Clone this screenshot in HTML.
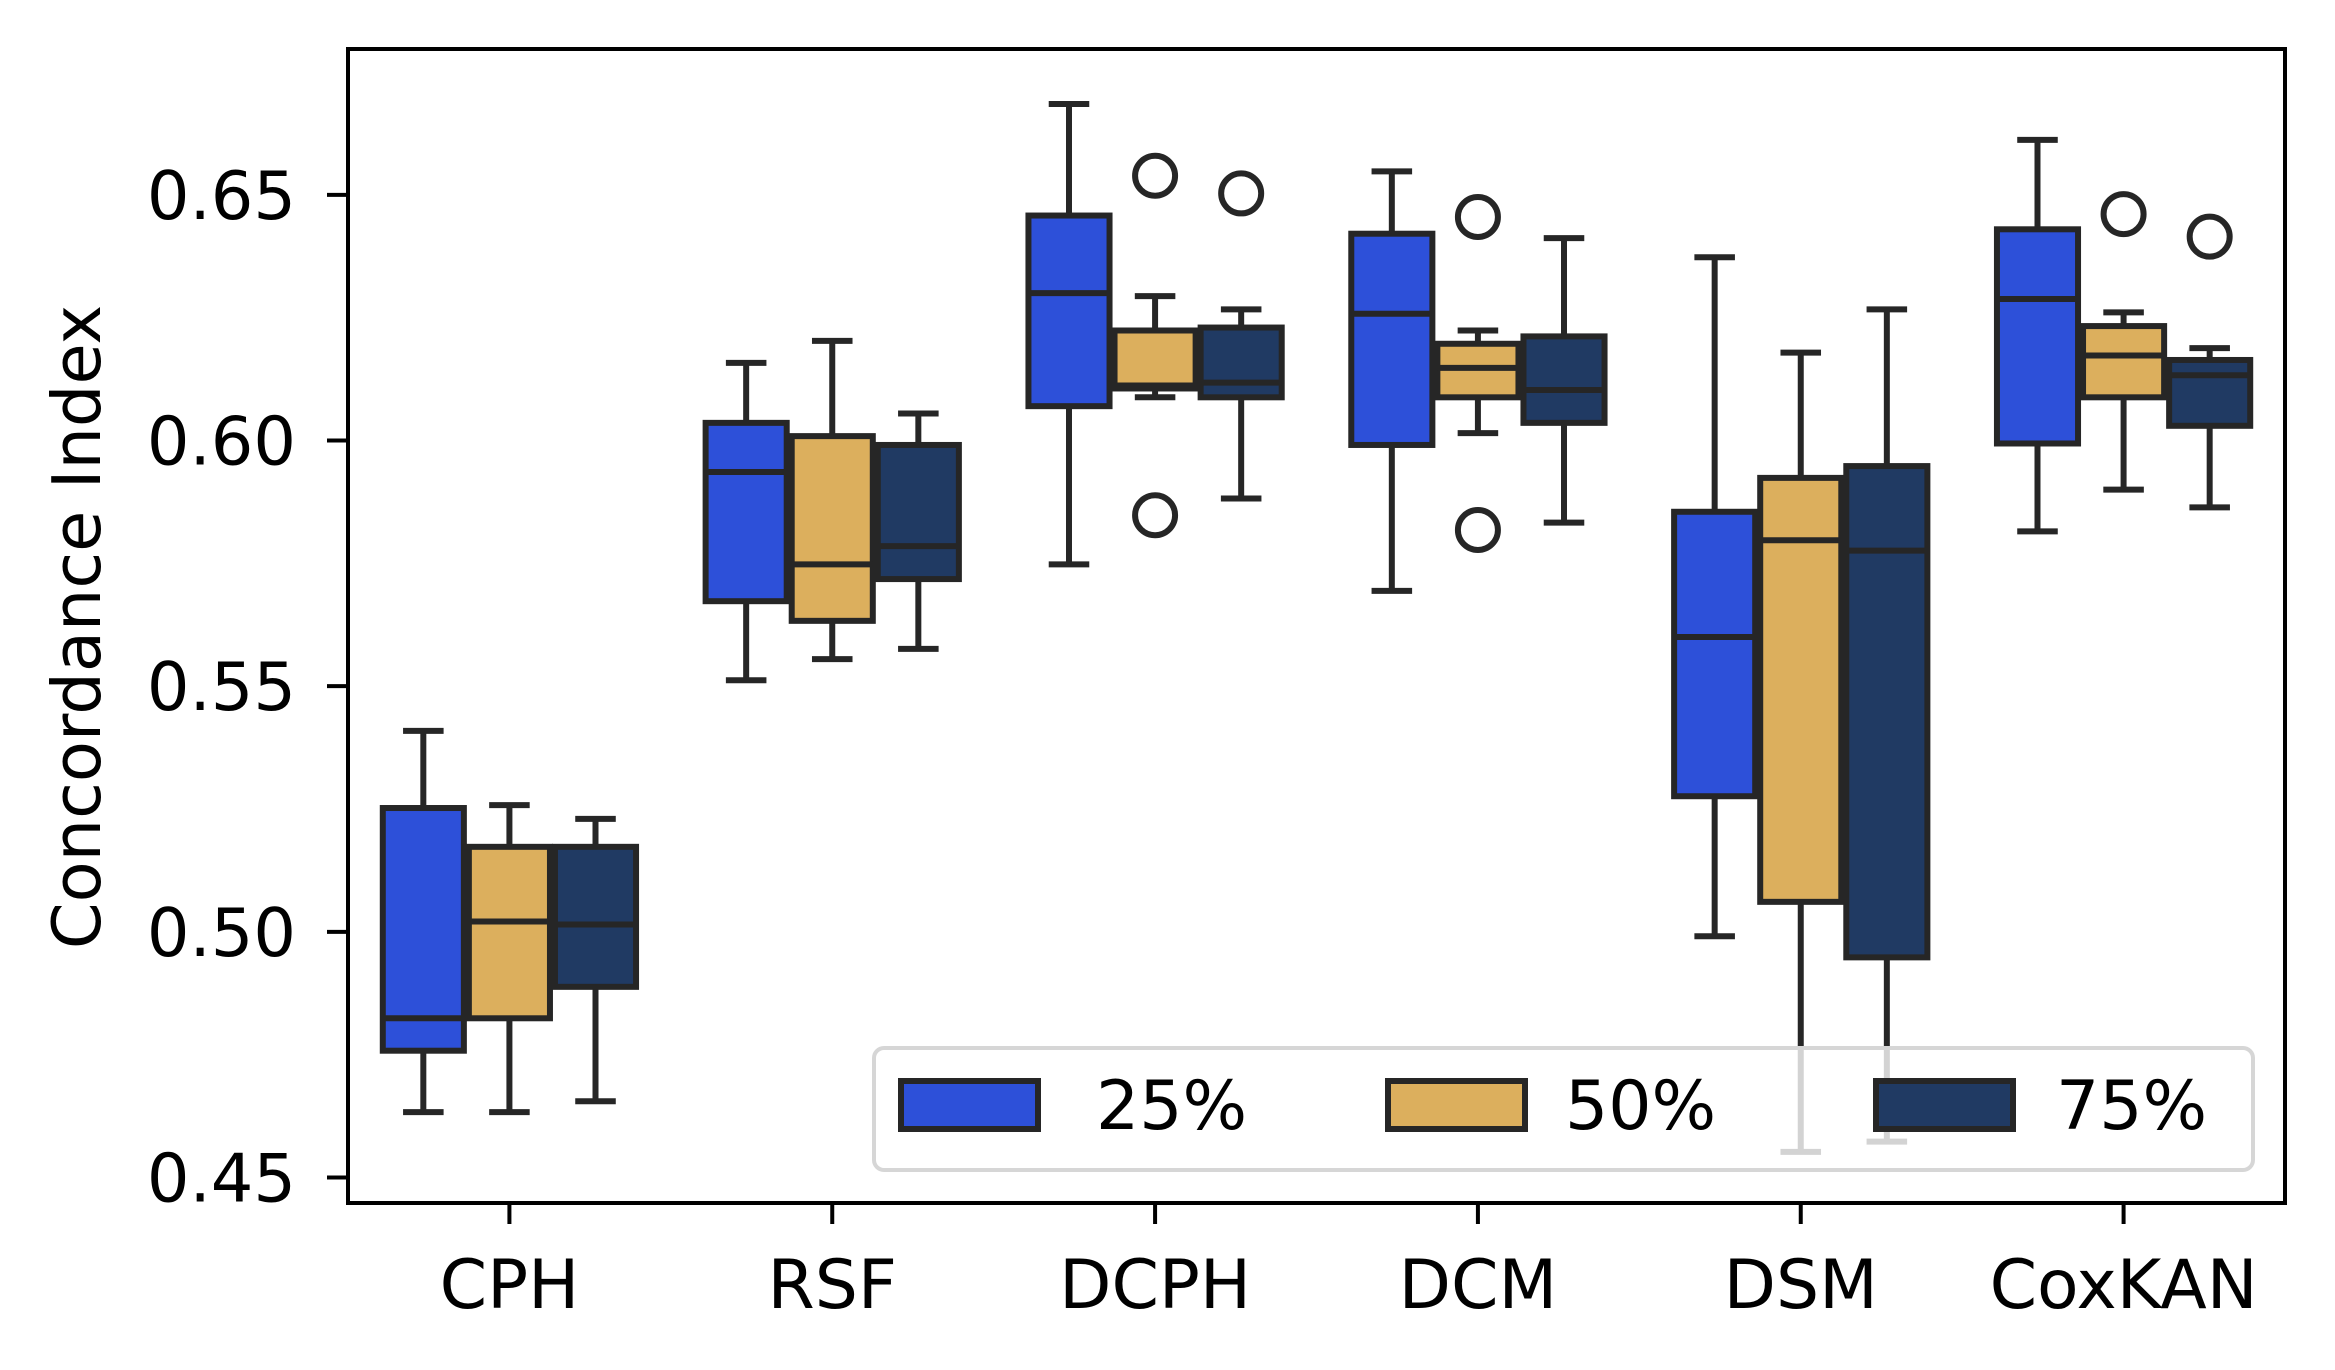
<!DOCTYPE html>
<html><head><meta charset="utf-8"><style>
html,body{margin:0;padding:0;background:#fff;}
svg{display:block;font-family:"DejaVu Sans","Liberation Sans",sans-serif;}
</style></head><body>
<svg id="chart" width="2335" height="1370" viewBox="0 0 2335 1370" xmlns="http://www.w3.org/2000/svg"></svg>
<script>
const categories = ["CPH","RSF","DCPH","DCM","DSM","CoxKAN"];
const hues = ["25%","50%","75%"];
const hueColors = ["#2d50d9","#dcaf5d","#203a63"];
// each stat: [lowWhisker, q1, median, q3, highWhisker]
const stats25 = [[0.4633,0.4758,0.4824,0.5252,0.5409],[0.5512,0.5673,0.5936,0.6036,0.6158],[0.5748,0.6070,0.6300,0.6458,0.6685],[0.5694,0.5991,0.6258,0.6421,0.6548],[0.4991,0.5276,0.5600,0.5855,0.6373],[0.5815,0.5994,0.6288,0.6430,0.6612]];
const stats50 = [[0.4633,0.4824,0.5021,0.5173,0.5258],[0.5555,0.5633,0.5748,0.6009,0.6203],[0.6088,0.6106,0.6112,0.6224,0.6294],[0.6015,0.6088,0.6148,0.6197,0.6224],[0.4552,0.5061,0.5797,0.5924,0.6179],[0.5900,0.6088,0.6173,0.6233,0.6261]];
const stats75 = [[0.4655,0.4888,0.5015,0.5173,0.5230],[0.5576,0.5718,0.5785,0.5991,0.6055],[0.5882,0.6088,0.6118,0.6230,0.6267],[0.5833,0.6036,0.6103,0.6212,0.6412],[0.4573,0.4948,0.5776,0.5948,0.6267],[0.5864,0.6030,0.6133,0.6164,0.6188]];
const outliers25 = [[],[],[],[],[],[]];
const outliers50 = [[],[],[0.6539,0.5848],[0.6455,0.5818],[],[0.6461]];
const outliers75 = [[],[],[0.6503],[],[],[0.6415]];
const yTicks = [0.45,0.50,0.55,0.60,0.65];
const yTickLabels = ["0.45","0.50","0.55","0.60","0.65"];

const NS="http://www.w3.org/2000/svg";
const svg=document.getElementById('chart');
const L=348,R=2285,T=49,B=1203;
const yMin=0.4448,yMax=0.6797;
const y=v=>B-(v-yMin)/(yMax-yMin)*(B-T);
const catW=(R-L)/categories.length;
const xc=i=>L+catW*(i+0.5);
const boxW=catW*0.8/3;
const ink="#262626";
const LW=6;
function mk(tag,attrs,parent){const e=document.createElementNS(NS,tag);for(const k in attrs)e.setAttribute(k,attrs[k]);(parent||svg).appendChild(e);return e;}

const allStats=[stats25,stats50,stats75];
const allOut=[outliers25,outliers50,outliers75];
for(let h=0;h<3;h++){
  for(let i=0;i<categories.length;i++){
    const s=allStats[h][i];
    const cx=xc(i)+(h-1)*boxW;
    const g=mk('g',{});
    
    
    const bw=boxW-5;
    mk('line',{x1:cx,x2:cx,y1:y(s[0]),y2:y(s[1]),stroke:ink,'stroke-width':LW},g);
    mk('line',{x1:cx,x2:cx,y1:y(s[3]),y2:y(s[4]),stroke:ink,'stroke-width':LW},g);
    mk('line',{x1:cx-bw/4,x2:cx+bw/4,y1:y(s[0]),y2:y(s[0]),stroke:ink,'stroke-width':LW},g);
    mk('line',{x1:cx-bw/4,x2:cx+bw/4,y1:y(s[4]),y2:y(s[4]),stroke:ink,'stroke-width':LW},g);
    mk('rect',{x:cx-bw/2,y:y(s[3]),width:bw,height:y(s[1])-y(s[3]),fill:hueColors[h],stroke:ink,'stroke-width':LW},g);
    mk('line',{x1:cx-bw/2,x2:cx+bw/2,y1:y(s[2]),y2:y(s[2]),stroke:ink,'stroke-width':LW},g);
    for(const o of allOut[h][i]){
      const c=mk('circle',{cx:cx,cy:y(o),r:20,fill:'none',stroke:ink,'stroke-width':LW},g);
      
      
    }
  }
}
const frame=mk('rect',{x:L,y:T,width:R-L,height:B-T,fill:'none',stroke:'#000','stroke-width':4});


for(let k=0;k<yTicks.length;k++){
  const yy=y(yTicks[k]);
  mk('line',{x1:L-21,x2:L,y1:yy,y2:yy,stroke:'#000','stroke-width':4});
  const t=mk('text',{x:296,y:yy+24,'text-anchor':'end','font-size':67,fill:'#000'});
  t.textContent=yTickLabels[k];
  
  
}
for(let i=0;i<categories.length;i++){
  mk('line',{x1:xc(i),x2:xc(i),y1:B,y2:B+21,stroke:'#000','stroke-width':4});
  const t=mk('text',{x:xc(i),y:1308,'text-anchor':'middle','font-size':68,fill:'#000'});
  t.textContent=categories[i];
  
  
}
const yl=mk('text',{x:0,y:0,'text-anchor':'middle','font-size':67,fill:'#000',transform:'translate(100,627) rotate(-90)'});
yl.textContent='Concordance Index';


const lg=mk('g',{});


mk('rect',{x:874,y:1048,width:1379,height:122,rx:10,fill:'rgba(255,255,255,0.8)',stroke:'#d6d6d6','stroke-width':4},lg);
const px=[901,1388,1876],tx=[1096,1565,2056];
for(let h=0;h<3;h++){
  const e=mk('g',{},lg);
  
  
  mk('rect',{x:px[h],y:1081,width:137,height:48,fill:hueColors[h],stroke:ink,'stroke-width':6},e);
  const t=mk('text',{x:tx[h],y:1129,'font-size':68,fill:'#000'},e);
  t.textContent=hues[h];
}
</script>
</body></html>
